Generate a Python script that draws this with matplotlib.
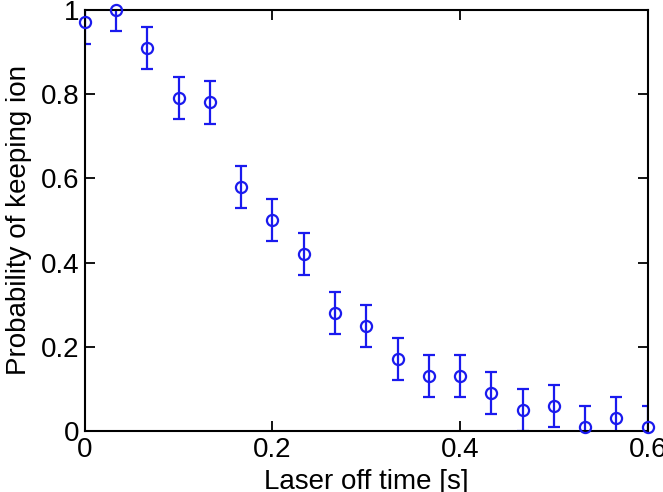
import numpy as np
import matplotlib
matplotlib.use("Agg")
import matplotlib.pyplot as plt

plt.rcParams['font.family'] = ['Liberation Sans', 'DejaVu Sans']

# data
t_off = np.arange(19) / 30.0
p_keep = [0.97, 1.00, 0.91, 0.79, 0.78, 0.58, 0.50, 0.42, 0.28, 0.25,
          0.17, 0.13, 0.13, 0.09, 0.05, 0.06, 0.01, 0.03, 0.01]
p_err = [0.05] * 19

fig = plt.figure(figsize=(6.63, 4.92), dpi=100)
ax = fig.add_axes([0.128, 0.124, 0.849, 0.856])

ax.errorbar(t_off, p_keep, yerr=p_err, fmt='none', ecolor='#1a1aee',
            elinewidth=1.6, capsize=4, capthick=1.6)
ax.plot(t_off, p_keep, 'o', mfc='none', mec='#1a1aee', mew=1.6, ms=8,
        clip_on=False, zorder=5)

ax.set_xlim(0, 0.6)
ax.set_ylim(0, 1)
ax.set_xticks([0, 0.2, 0.4, 0.6])
ax.set_xticklabels(['0', '0.2', '0.4', '0.6'])
ax.set_yticks([0, 0.2, 0.4, 0.6, 0.8, 1])
ax.set_yticklabels(['0', '0.2', '0.4', '0.6', '0.8', '1'])
ax.tick_params(direction='in', length=7, width=1.3, labelsize=20,
               top=True, right=True, pad=4)
for s in ax.spines.values():
    s.set_linewidth(1.5)

ax.set_xlabel('Laser off time [s]', fontsize=20, labelpad=5)
ax.set_ylabel('Probability of keeping ion', fontsize=20, labelpad=6)

fig.savefig('out.png', dpi=100)
